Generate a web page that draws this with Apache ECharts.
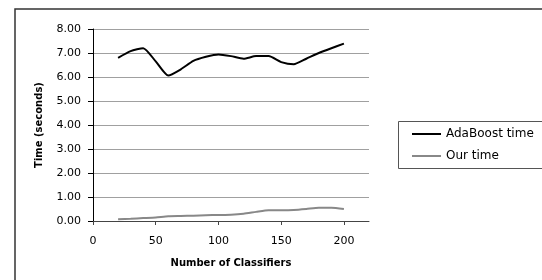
<!DOCTYPE html>
<html>
<head>
<meta charset="utf-8">
<script src="https://cdn.jsdelivr.net/npm/echarts@6/dist/echarts.min.js"></script>
<style>
  html, body { margin: 0; padding: 0; background: #fff; }
  #chart { width: 542px; height: 280px; }
</style>
</head>
<body>
<div id="chart"></div>
<script>
// number of classifiers
const classifiers = [20, 30, 40, 50, 60, 70, 80, 90, 100, 110, 120, 130, 140, 150, 160, 170, 180, 190, 200]
const adaBoostTime = [6.80, 7.08, 7.20, 6.65, 6.06, 6.32, 6.67, 6.84, 6.94, 6.87, 6.76, 6.87, 6.87, 6.62, 6.53, 6.76, 7.00, 7.20, 7.39]
const ourTime = [0.07, 0.09, 0.12, 0.15, 0.20, 0.21, 0.22, 0.24, 0.25, 0.26, 0.30, 0.38, 0.45, 0.45, 0.46, 0.50, 0.55, 0.55, 0.50]
const xTicks = [0, 50, 100, 150, 200]

const font = 'DejaVu Sans'

const toPairs = (ys) => classifiers.map((x, i) => [x, ys[i]])

let option = {
  animation: false,
  grid: {
    left: 93,
    top: 29,
    right: 173,
    bottom: 59,
  },
  graphic: [
    {
      type: 'polyline',
      shape: { points: [[15, 280], [15, 9], [542, 9]] },
      style: { stroke: '#333', lineWidth: 1.5, fill: null },
    },
    {
      type: 'rect',
      shape: { x: 398.5, y: 121.5, width: 160, height: 47 },
      style: { stroke: '#555', lineWidth: 1, fill: null },
    },
  ],
  legend: {
    orient: 'vertical',
    left: 412,
    top: 128,
    padding: 0,
    icon: 'rect',
    itemWidth: 29,
    itemHeight: 2,
    itemGap: 10,
    textStyle: {
      fontFamily: font,
      fontSize: 12,
      color: '#000',
    },
    data: [
      { name: 'AdaBoost time', itemStyle: { color: '#000' } },
      { name: 'Our time', itemStyle: { color: '#888' } },
    ],
  },
  xAxis: {
    type: 'value',
    min: 0,
    max: 220,
    interval: 50,
    name: 'Number of Classifiers',
    nameLocation: 'middle',
    nameGap: 37,
    nameTextStyle: {
      fontFamily: font,
      fontSize: 10,
      fontWeight: 'bold',
      color: '#000',
    },
    axisLine: { lineStyle: { color: '#444', width: 1 } },
    axisTick: { show: true, length: 4, customValues: xTicks, lineStyle: { color: '#444' } },
    axisLabel: {
      customValues: xTicks,
      margin: 15,
      fontFamily: font,
      fontSize: 11,
      color: '#000',
    },
    splitLine: { show: false },
  },
  yAxis: {
    type: 'value',
    min: 0,
    max: 8,
    interval: 1,
    name: 'Time (seconds)',
    nameLocation: 'middle',
    nameGap: 49,
    nameTextStyle: {
      fontFamily: font,
      fontSize: 10,
      fontWeight: 'bold',
      color: '#000',
    },
    axisLine: { show: true, lineStyle: { color: '#000', width: 1 } },
    axisTick: { show: true, length: 5, lineStyle: { color: '#000' } },
    axisLabel: {
      margin: 12,
      fontFamily: font,
      fontSize: 11,
      color: '#000',
      formatter: (v) => v.toFixed(2),
    },
    splitLine: { lineStyle: { color: '#a0a0a0', width: 1 } },
  },
  series: [
    {
      name: 'AdaBoost time',
      type: 'line',
      data: toPairs(adaBoostTime),
      symbol: 'none',
      smooth: 0.2,
      lineStyle: { color: '#000', width: 2 },
      itemStyle: { color: '#000' },
    },
    {
      name: 'Our time',
      type: 'line',
      data: toPairs(ourTime),
      symbol: 'none',
      smooth: 0.2,
      lineStyle: { color: '#888', width: 2 },
      itemStyle: { color: '#888' },
    },
  ],
}

const myChart = echarts.init(document.getElementById('chart'))
myChart.setOption(option)
</script>
</body>
</html>
